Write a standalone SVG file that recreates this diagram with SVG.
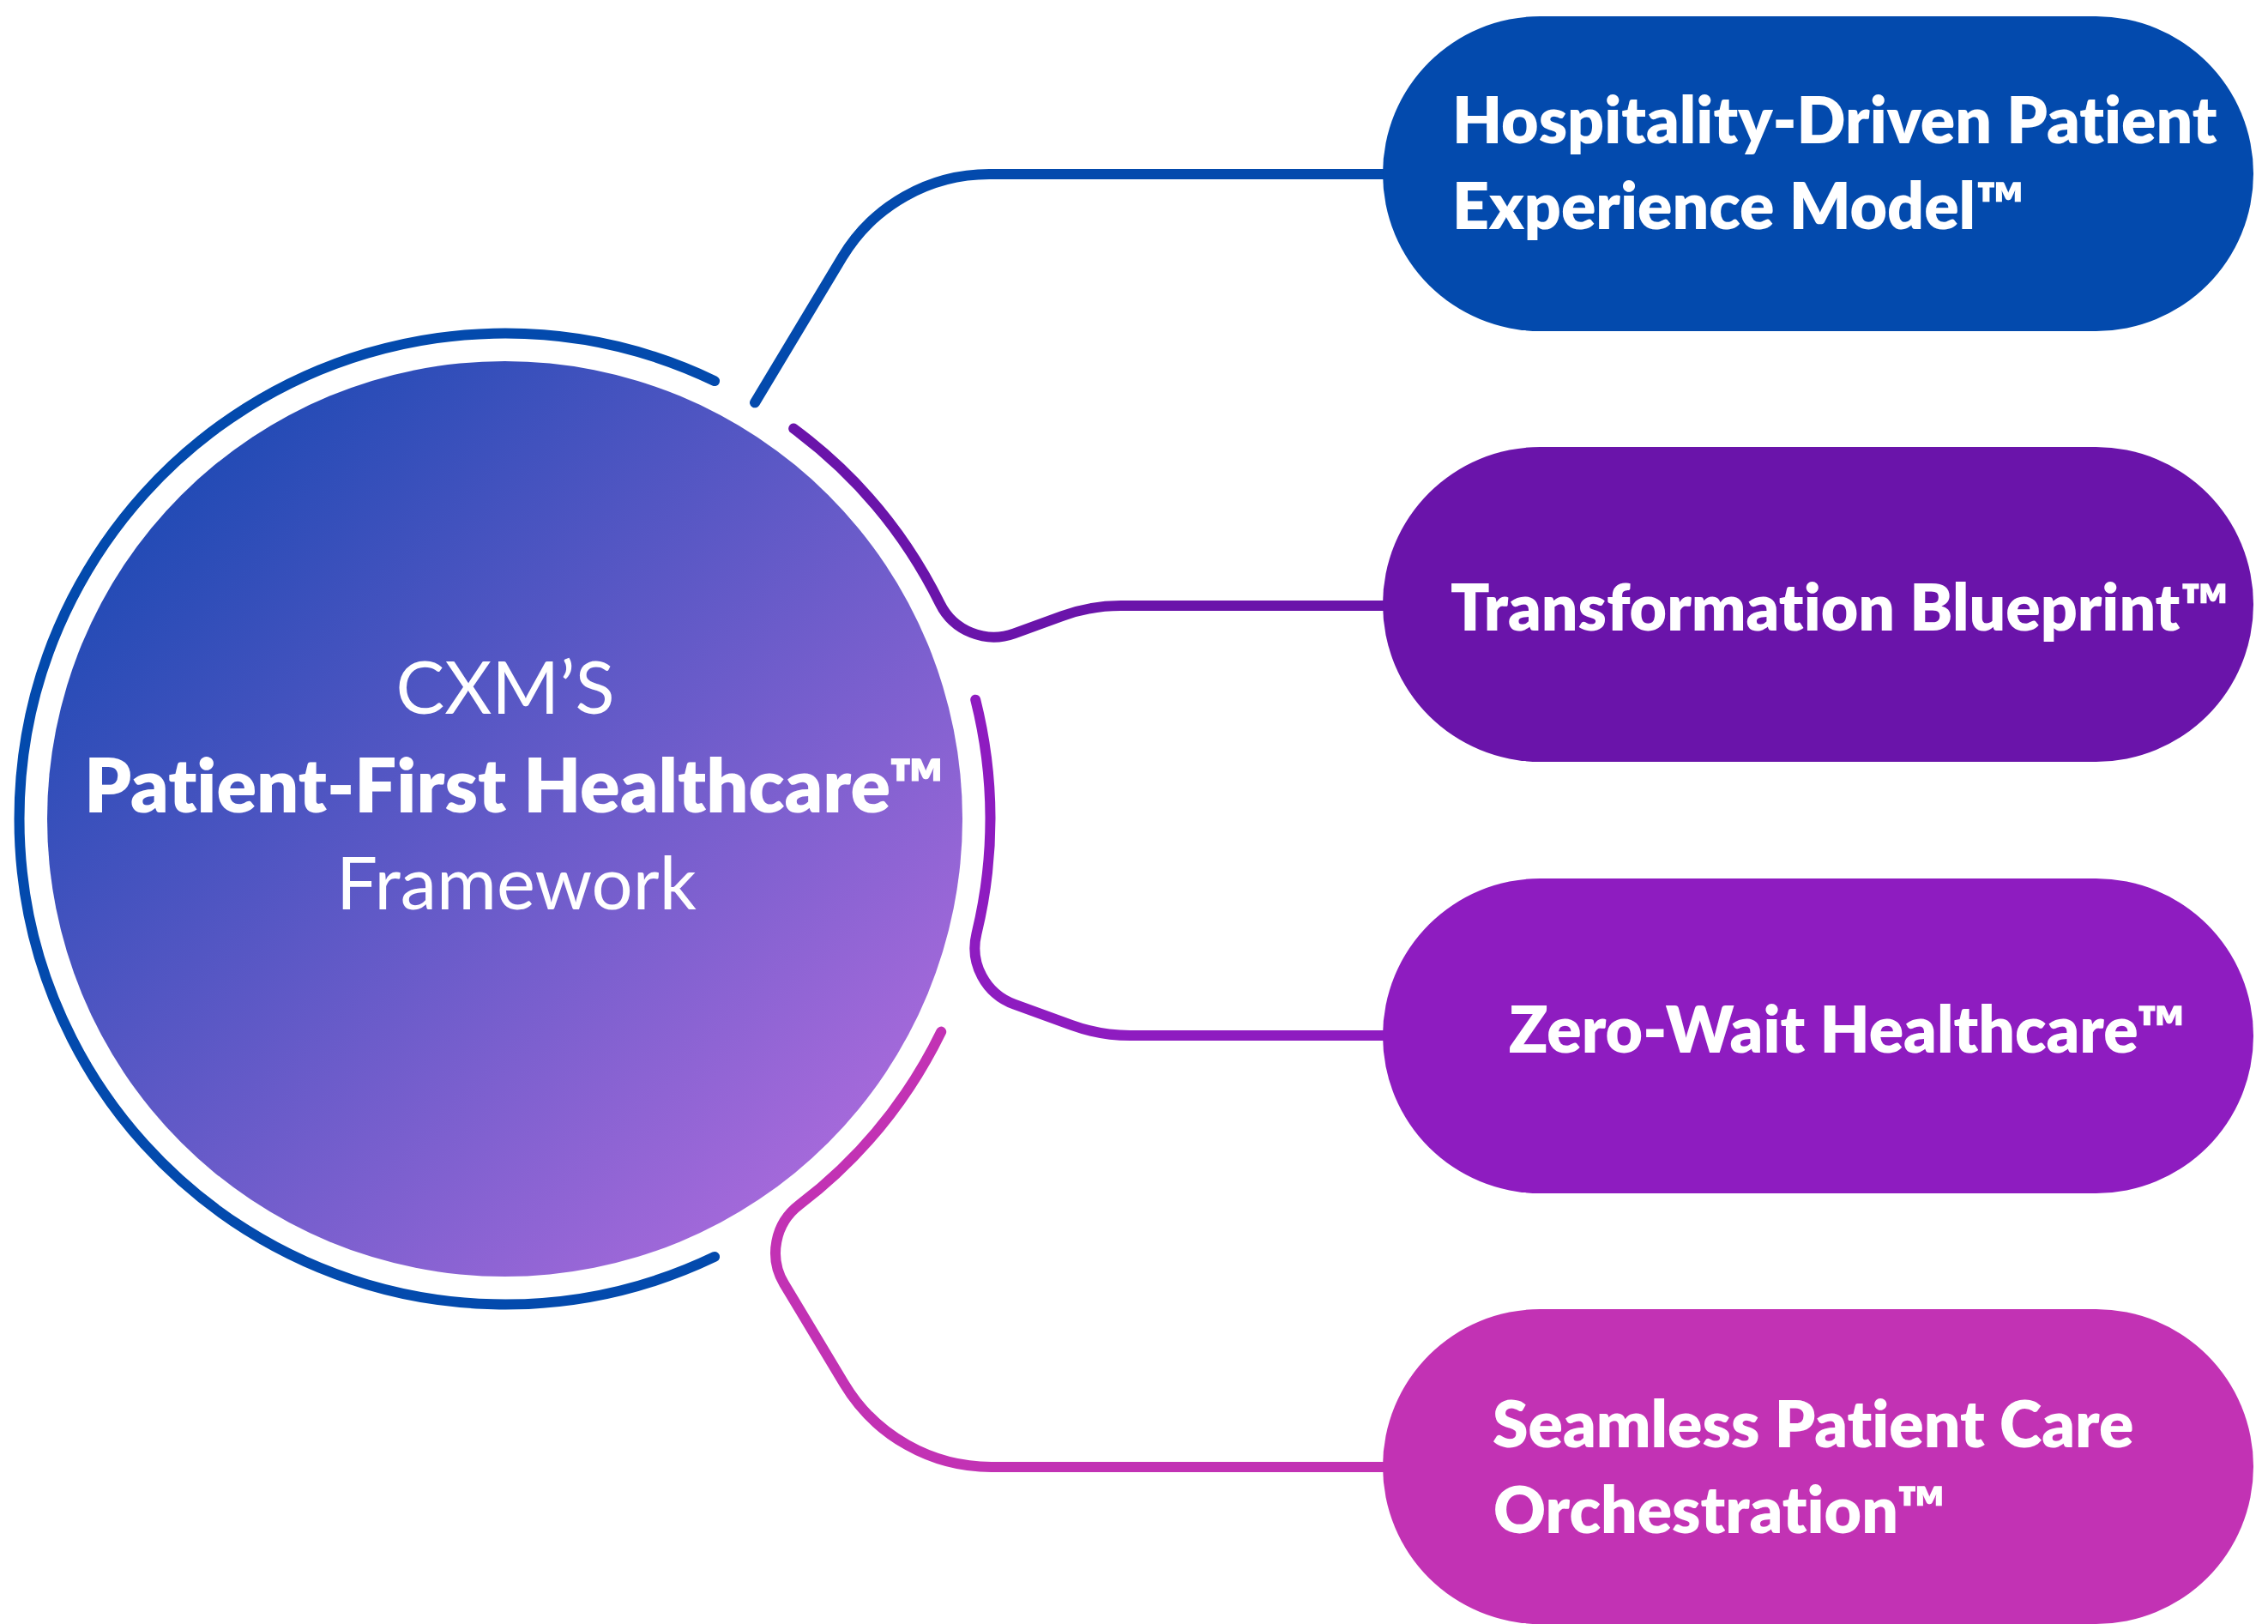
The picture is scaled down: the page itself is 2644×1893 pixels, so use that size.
<svg xmlns="http://www.w3.org/2000/svg" width="2644" height="1893" viewBox="0 0 2644 1893">
  <defs>
    <linearGradient id="hubGrad" x1="0" y1="0" x2="1" y2="1">
      <stop offset="0.1" stop-color="#1B49B3"/>
      <stop offset="0.95" stop-color="#B56DDF"/>
    </linearGradient>
    <style>
      text { font-variant-ligatures: none; font-feature-settings: "liga" 0, "clig" 0; }
      .line { fill: none; stroke-width: 12; stroke-linecap: round; stroke-linejoin: round; }
      .pill-text { font-family: Lato, "Noto Sans", sans-serif; font-weight: 800; font-size: 75px; fill: #FFFFFF; }
      .hub-light { font-family: Lato, "Noto Sans", sans-serif; font-weight: 400; font-size: 85px; fill: #FFFFFF; text-anchor: middle; }
      .hub-bold { font-family: Lato, "Noto Sans", sans-serif; font-weight: 800; font-size: 86.5px; fill: #FFFFFF; text-anchor: middle; }
    </style>
  </defs>
  <rect x="0" y="0" width="2644" height="1893" fill="#FFFFFF"/>

  <g id="connectors">
    <path class="line" stroke="#034AAD" d="M833.06,444.06 A566,566 0 1 0 833.06,1464.94"/>
    <path class="line" stroke="#034AAD" d="M880.01,469.34 L981.77,300 A200,200 0 0 1 1153.21,203 L1620,203"/>
    <path class="line" stroke="#6A14AA" d="M925.17,499.52 A566,566 0 0 1 1095.83,703.55 A70,70 0 0 0 1182.48,738.31 L1238.11,718.06 A200,200 0 0 1 1306.52,706 L1620,706"/>
    <path class="line" stroke="#8E1CC0" d="M1137.21,815.65 A566,566 0 0 1 1138.44,1088.34 A70,70 0 0 0 1182.48,1170.69 L1249.1,1194.94 A200,200 0 0 0 1317.51,1207 L1620,1207"/>
    <path class="line" stroke="#C232B4" d="M1097.22,1202.62 A566,566 0 0 1 931.68,1404.59 A70,70 0 0 0 914.06,1496.32 L984.17,1613 A200,200 0 0 0 1155.61,1710 L1620,1710"/>
  </g>

  <g id="hub">
    <circle cx="588.5" cy="954.5" r="533.5" fill="url(#hubGrad)"/>
    <text class="hub-light" x="589" y="832">CXM’S</text>
    <text class="hub-bold" x="600" y="947">Patient-First Healthcare™</text>
    <text class="hub-light" x="602" y="1060">Framework</text>
  </g>

  <g id="node-hospitality">
    <rect x="1612" y="19" width="1015" height="367" rx="183.5" ry="183.5" fill="#034AAD"/>
    <text class="pill-text" x="1693" y="167">Hospitality-Driven Patient</text>
    <text class="pill-text" x="1693" y="267">Experience Model™</text>
  </g>

  <g id="node-transformation">
    <rect x="1612" y="521" width="1015" height="367" rx="183.5" ry="183.5" fill="#6A14AA"/>
    <text class="pill-text" x="1691" y="735">Transformation Blueprint™</text>
  </g>

  <g id="node-zerowait">
    <rect x="1612" y="1024" width="1015" height="367" rx="183.5" ry="183.5" fill="#8E1CC0"/>
    <text class="pill-text" x="1759" y="1227">Zero-Wait Healthcare™</text>
  </g>

  <g id="node-seamless">
    <rect x="1612" y="1526" width="1015" height="367" rx="183.5" ry="183.5" fill="#C232B4"/>
    <text class="pill-text" x="1740" y="1687">Seamless Patient Care</text>
    <text class="pill-text" x="1741" y="1787">Orchestration™</text>
  </g>
</svg>
